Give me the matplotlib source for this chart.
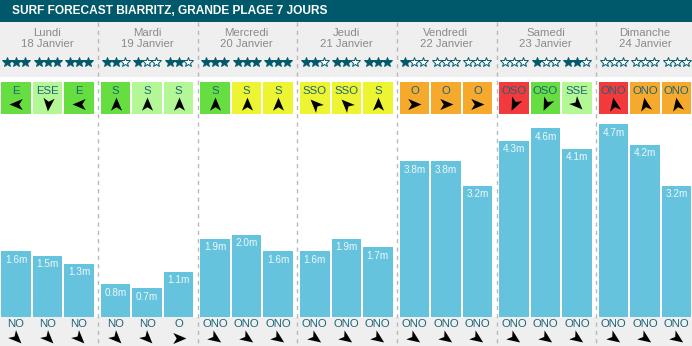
import matplotlib
matplotlib.use("Agg")
import matplotlib.pyplot as plt
import numpy as np
from matplotlib.patches import Rectangle
from matplotlib.path import Path
from matplotlib.markers import MarkerStyle
from matplotlib.transforms import Affine2D

plt.rcParams['font.family'] = ['Liberation Sans', 'DejaVu Sans']

title = "SURF FORECAST BIARRITZ, GRANDE PLAGE 7 JOURS"
days = ['Lundi', 'Mardi', 'Mercredi', 'Jeudi', 'Vendredi', 'Samedi', 'Dimanche']
dates = ['18 Janvier', '19 Janvier', '20 Janvier', '21 Janvier',
         '22 Janvier', '23 Janvier', '24 Janvier']

# 3 slots per day
heights = [1.6, 1.5, 1.3, 0.8, 0.7, 1.1, 1.9, 2.0, 1.6, 1.6, 1.9, 1.7,
           3.8, 3.8, 3.2, 4.3, 4.6, 4.1, 4.7, 4.2, 3.2]
stars = [3, 3, 3, 2, 1, 2, 3, 3, 3, 2, 2, 3, 1, 0, 0, 0, 1, 2, 0, 0, 0]
wind_dir = ['E', 'ESE', 'E', 'S', 'S', 'S', 'S', 'S', 'S', 'SSO', 'SSO', 'S',
            'O', 'O', 'O', 'OSO', 'OSO', 'SSE', 'ONO', 'ONO', 'ONO']
wind_level = [0, 1, 0, 0, 1, 1, 0, 2, 2, 2, 2, 2, 3, 3, 3, 4, 0, 1, 4, 3, 3]
swell_dir = ['NO', 'NO', 'NO', 'NO', 'NO', 'O'] + ['ONO'] * 15

level_colors = ['#66de42', '#b3f796', '#edf533', '#f6aa2d', '#f23a3c']
wind_angle = {'E': 180, 'ESE': 265, 'S': 90, 'SSO': 135, 'O': 0,
              'OSO': 245, 'SSE': 315, 'ONO': 100}
swell_angle = {'NO': 315, 'O': 0, 'ONO': 325}

teal = '#00596b'
txt_teal = '#1e6478'
bar_col = '#65c3de'
gray_bg = '#efefef'

W, H = 692, 346
pitch = 99.6
n = len(heights)
day_idx = np.arange(n) // 3
slot_idx = np.arange(n) % 3
xc = 1 + pitch * day_idx + 15 + 31.5 * slot_idx
bw = 29.5


def arrow(angle):
    verts = [(1, 0), (-0.9, 0.8), (-0.4, 0), (-0.9, -0.8), (1, 0)]
    codes = [Path.MOVETO, Path.LINETO, Path.LINETO, Path.LINETO, Path.CLOSEPOLY]
    return MarkerStyle(Path(verts, codes), transform=Affine2D().rotate_deg(angle))


fig = plt.figure(figsize=(W / 100, H / 100), dpi=100)
bg = fig.add_axes([0, 0, 1, 1])
bg.set_xlim(0, W)
bg.set_ylim(H, 0)
bg.axis('off')

bg.add_patch(Rectangle((0, 0), W, 22, color=teal, lw=0))
bg.add_patch(Rectangle((0, 22), W, 55, color=gray_bg, lw=0))
bg.add_patch(Rectangle((0, 317), W, 29, color=gray_bg, lw=0))
bg.text(12, 11.5, title, color='white', fontsize=8.6, fontweight='bold',
        va='center', ha='left')

for d in range(1, 7):
    xd = 1 + pitch * d - 2.5
    bg.plot([xd, xd], [22, H], color='#b8b8b8', lw=1, ls=(0, (3, 3)))

for d in range(7):
    cx = 1 + pitch * d + 46.5
    bg.text(cx, 32.5, days[d], ha='center', va='center', color='#8a8a8a', fontsize=8.2)
    bg.text(cx, 44, dates[d], ha='center', va='center', color='#8a8a8a', fontsize=8.2)

for i in range(n):
    x = xc[i]
    for j in range(3):
        filled = j < stars[i]
        bg.plot(x + (j - 1) * 9, 62, marker='*', ms=7,
                mfc=teal if filled else 'white', mec=teal, mew=0.7)
    bg.add_patch(Rectangle((x - bw / 2, 82), bw, 32,
                           color=level_colors[wind_level[i]], lw=0))
    bg.text(x, 90.5, wind_dir[i], ha='center', va='center', color=txt_teal, fontsize=8.2)
    bg.plot(x, 103.5, marker=arrow(wind_angle[wind_dir[i]]), ms=10, color='black', mew=0)
    bg.text(x, 324, swell_dir[i], ha='center', va='center', color=txt_teal, fontsize=8.2)
    bg.plot(x, 337.5, marker=arrow(swell_angle[swell_dir[i]]), ms=10, color='black', mew=0)

# bars
bax = fig.add_axes([0, 29 / H, 1, 203 / H])
bax.set_xlim(0, W)
bax.set_ylim(0, 203 / 41)
bax.axis('off')
bax.bar(xc, heights, width=bw, color=bar_col, lw=0)
for x, h in zip(xc, heights):
    bax.annotate(f"{h:.1f}m", (x, h), xytext=(0, -6), textcoords='offset points',
                 ha='center', va='center', color='#eef8fb', fontsize=7.2)

fig.savefig('out.png', dpi=100)
